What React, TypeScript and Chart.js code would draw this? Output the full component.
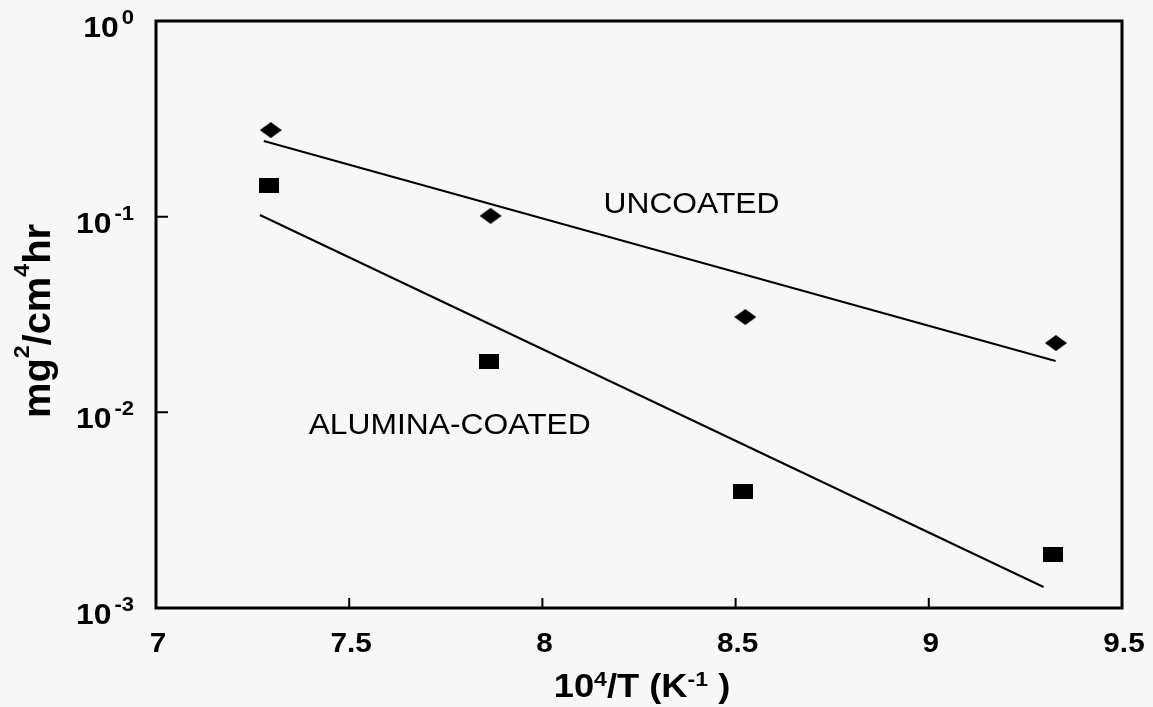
import React, { useEffect, useRef } from "react";
import { Chart, registerables } from "chart.js";

Chart.register(...registerables);

// ---- data ----
const uncoatedX = [7.297, 7.866, 8.525, 9.329];
const uncoatedY = [0.277, 0.101, 0.0307, 0.0226];
const aluminaX = [7.292, 7.861, 8.52, 9.322];
const aluminaY = [0.1435, 0.0181, 0.00396, 0.00187];
const uncoatedFitX = [7.279, 9.328];
const uncoatedFitY = [0.2437, 0.0183];
const aluminaFitX = [7.269, 9.297];
const aluminaFitY = [0.102, 0.00128];

const xTickValues = [7, 7.5, 8, 8.5, 9, 9.5];
const xTickLabels = ["7", "7.5", "8", "8.5", "9", "9.5"];
const yTickValues = [1, 0.1, 0.01, 0.001];
const yTickExponents = ["0", "-1", "-2", "-3"];
const xInnerTicks = [7.5, 8, 8.5, 9];
const yInnerTicks = [0.1, 0.01];

const labelTexts = ["UNCOATED", "ALUMINA-COATED"];
const labelX = [8.158, 7.395];
const labelY = [0.1148, 0.00853];

const BG = "#f7f7f7";
const INK = "#000000";

function makeMarker(kind: "diamond" | "rect", w: number, h: number) {
  const c = document.createElement("canvas");
  c.width = w;
  c.height = h;
  const g = c.getContext("2d")!;
  g.fillStyle = INK;
  if (kind === "diamond") {
    g.beginPath();
    g.moveTo(w / 2, 0);
    g.lineTo(w, h / 2);
    g.lineTo(w / 2, h);
    g.lineTo(0, h / 2);
    g.closePath();
    g.fill();
  } else {
    g.fillRect(0, 0, w, h);
  }
  return c;
}

type Piece = { t: string; sup?: boolean };

function drawPieces(
  ctx: CanvasRenderingContext2D,
  pieces: Piece[],
  startX: number,
  baseY: number,
  bigFont: string,
  supFont: string,
  supOffset: number,
  sx: number
) {
  let x = startX;
  for (const p of pieces) {
    ctx.font = p.sup ? supFont : bigFont;
    ctx.save();
    ctx.translate(x, baseY + (p.sup ? supOffset : 0));
    ctx.scale(sx, 1);
    ctx.textAlign = "left";
    ctx.textBaseline = "alphabetic";
    ctx.fillText(p.t, 0, 0);
    ctx.restore();
    x += ctx.measureText(p.t).width * sx;
  }
  return x;
}

function piecesWidth(
  ctx: CanvasRenderingContext2D,
  pieces: Piece[],
  bigFont: string,
  supFont: string,
  sx: number
) {
  let w = 0;
  for (const p of pieces) {
    ctx.font = p.sup ? supFont : bigFont;
    w += ctx.measureText(p.t).width * sx;
  }
  return w;
}

const FONT = "'Liberation Sans', Arial, Helvetica, sans-serif";

const decorPlugin = {
  id: "decor",
  beforeDraw(chart: any) {
    const ctx = chart.ctx as CanvasRenderingContext2D;
    ctx.save();
    ctx.fillStyle = BG;
    ctx.fillRect(0, 0, chart.width, chart.height);
    ctx.restore();
  },
  afterDraw(chart: any) {
    const ctx = chart.ctx as CanvasRenderingContext2D;
    const xs = chart.scales.x;
    const ys = chart.scales.y;
    const { left, right, top, bottom } = chart.chartArea;
    ctx.save();
    ctx.strokeStyle = INK;
    ctx.fillStyle = INK;

    // frame
    ctx.lineWidth = 3;
    ctx.strokeRect(left, top, right - left, bottom - top);

    // inner ticks
    ctx.lineWidth = 2;
    ctx.beginPath();
    for (const v of xInnerTicks) {
      const px = xs.getPixelForValue(v);
      ctx.moveTo(px, bottom);
      ctx.lineTo(px, bottom - 10);
    }
    for (const v of yInnerTicks) {
      const py = ys.getPixelForValue(v);
      ctx.moveTo(left, py);
      ctx.lineTo(left + 12, py);
    }
    ctx.stroke();

    // x tick labels
    ctx.font = `bold 27px ${FONT}`;
    xTickValues.forEach((v, i) => {
      const px = xs.getPixelForValue(v) + 2;
      ctx.save();
      ctx.translate(px, 652);
      ctx.scale(1.1, 1);
      ctx.textAlign = "center";
      ctx.textBaseline = "alphabetic";
      ctx.fillText(xTickLabels[i], 0, 0);
      ctx.restore();
    });

    // y tick labels (10 with superscript exponent)
    yTickValues.forEach((v, i) => {
      const py = ys.getPixelForValue(v);
      const supRight = 134;
      ctx.font = `bold 21px ${FONT}`;
      const supW = ctx.measureText(yTickExponents[i]).width * 1.05;
      ctx.save();
      ctx.translate(supRight - supW, py + 3);
      ctx.scale(1.05, 1);
      ctx.textAlign = "left";
      ctx.fillText(yTickExponents[i], 0, 0);
      ctx.restore();
      ctx.font = `bold 29px ${FONT}`;
      const bigW = ctx.measureText("10").width * 1.1;
      ctx.save();
      ctx.translate(supRight - supW - 3 - bigW, py + 16);
      ctx.scale(1.1, 1);
      ctx.textAlign = "left";
      ctx.fillText("10", 0, 0);
      ctx.restore();
    });

    // x title
    const xtPieces: Piece[] = [
      { t: "10" },
      { t: "4", sup: true },
      { t: "/T (K" },
      { t: "-1", sup: true },
      { t: " )" },
    ];
    const xBig = `bold 33px ${FONT}`;
    const xSup = `bold 21px ${FONT}`;
    const xtW = piecesWidth(ctx, xtPieces, xBig, xSup, 1.1);
    const cx = (left + right) / 2 + 3;
    drawPieces(ctx, xtPieces, cx - xtW / 2, 697, xBig, xSup, -11, 1.1);

    // y title (rotated)
    const ytPieces: Piece[] = [
      { t: "mg" },
      { t: "2", sup: true },
      { t: "/cm" },
      { t: "4", sup: true },
      { t: "hr" },
    ];
    const yBig = `bold 38px ${FONT}`;
    const ySup = `bold 22px ${FONT}`;
    const ytW = piecesWidth(ctx, ytPieces, yBig, ySup, 1.05);
    ctx.save();
    ctx.translate(50, 321);
    ctx.rotate(-Math.PI / 2);
    drawPieces(ctx, ytPieces, -ytW / 2, 0, yBig, ySup, -21, 1.05);
    ctx.restore();

    // annotations
    ctx.font = `30px ${FONT}`;
    labelTexts.forEach((t, i) => {
      const px = xs.getPixelForValue(labelX[i]);
      const py = ys.getPixelForValue(labelY[i]);
      ctx.save();
      ctx.translate(px, py);
      ctx.scale(1.06, 1);
      ctx.textAlign = "left";
      ctx.textBaseline = "middle";
      ctx.fillText(t, 0, 0);
      ctx.restore();
    });

    ctx.restore();
  },
};

export default function App() {
  const ref = useRef<HTMLCanvasElement | null>(null);

  useEffect(() => {
    if (!ref.current) return;
    const diamond = makeMarker("diamond", 22, 16);
    const square = makeMarker("rect", 20, 15);
    const chart = new Chart(ref.current, {
      type: "scatter",
      data: {
        datasets: [
          {
            label: "UNCOATED",
            data: uncoatedX.map((x, i) => ({ x, y: uncoatedY[i] })),
            pointStyle: diamond as any,
            pointRadius: 10,
            backgroundColor: INK,
            borderColor: INK,
            showLine: false,
          },
          {
            label: "ALUMINA-COATED",
            data: aluminaX.map((x, i) => ({ x, y: aluminaY[i] })),
            pointStyle: square as any,
            pointRadius: 10,
            backgroundColor: INK,
            borderColor: INK,
            showLine: false,
          },
          {
            label: "UNCOATED fit",
            data: uncoatedFitX.map((x, i) => ({ x, y: uncoatedFitY[i] })),
            showLine: true,
            borderColor: INK,
            borderWidth: 2,
            pointRadius: 0,
            fill: false,
          },
          {
            label: "ALUMINA-COATED fit",
            data: aluminaFitX.map((x, i) => ({ x, y: aluminaFitY[i] })),
            showLine: true,
            borderColor: INK,
            borderWidth: 2,
            pointRadius: 0,
            fill: false,
          },
        ],
      },
      options: {
        animation: false,
        responsive: true,
        maintainAspectRatio: false,
        layout: { padding: { left: 148, right: 31, top: 21, bottom: 91 } },
        plugins: {
          legend: { display: false },
          tooltip: { enabled: false },
          title: { display: false },
        },
        scales: {
          x: {
            type: "linear",
            min: 7,
            max: 9.5,
            grid: { display: false },
            border: { display: false },
            ticks: { display: false },
          },
          y: {
            type: "logarithmic",
            min: 0.001,
            max: 1,
            grid: { display: false },
            border: { display: false },
            ticks: { display: false },
          },
        },
      },
      plugins: [decorPlugin],
    });
    return () => chart.destroy();
  }, []);

  return (
    <div
      style={{
        position: "absolute",
        left: 0,
        top: 0,
        width: 1153,
        height: 707,
        background: BG,
      }}
    >
      <canvas ref={ref} />
    </div>
  );
}
